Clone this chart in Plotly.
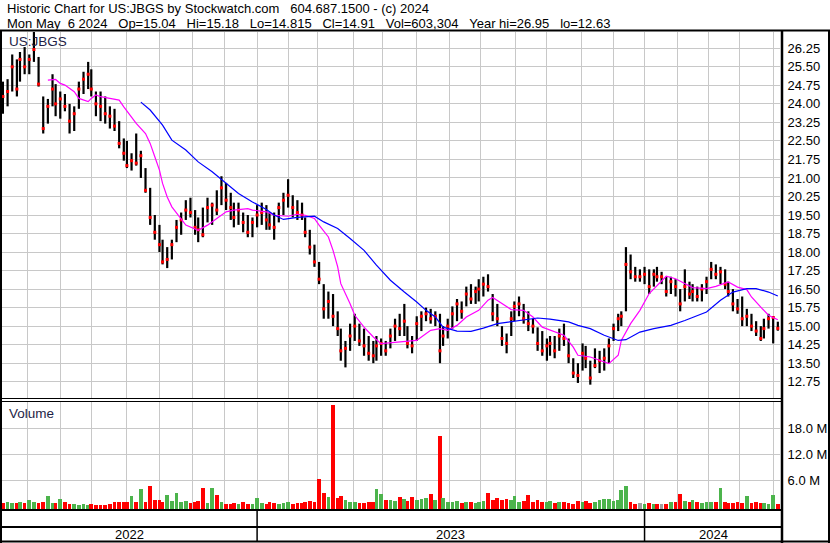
import numpy as np
import pandas as pd
import plotly.graph_objects as go

# ---------------- data ----------------
symbol = "US:JBGS"
header_line1_parts = ["Historic Chart for US:JBGS by Stockwatch.com", "604.687.1500 - (c) 2024"]
header_line2_parts = ["Mon May\u00a0\u00a06 2024", "Op=15.04", "Hi=15.18", "Lo=14.815",
                      "Cl=14.91", "Vol=603,304", "Year hi=26.95", "lo=12.63"]

# exchange holidays inside the charted period (trading calendar)
market_holidays = ["2022-05-30", "2022-06-20", "2022-07-04", "2022-09-05", "2022-11-24", "2022-12-26",
                   "2023-01-02", "2023-01-16", "2023-02-20", "2023-04-07", "2023-05-29", "2023-06-19",
                   "2023-07-04", "2023-09-04", "2023-11-23", "2023-12-25",
                   "2024-01-01", "2024-01-15", "2024-02-19", "2024-03-29"]
first_day, last_day = "2022-05-09", "2024-05-06"

# bars evenly spread over the period, first to last trading day
bar_high = [24.9, 25.0, 26.0, 25.8, 26.1, 26.3, 26.0, 26.95, 25.9, 24.3,
            24.2, 25.2, 24.8, 24.5, 24.4, 24.0, 23.9, 24.9, 25.3, 25.7,
            25.4, 24.5, 24.5, 24.3, 23.9, 23.8, 23.3, 22.6, 22.5, 22.0,
            22.8, 22.1, 21.4, 20.6, 19.5, 19.1, 18.5, 18.2, 18.5, 19.3,
            19.6, 20.1, 20.2, 19.7, 19.4, 19.8, 20.2, 20.0, 20.5, 21.07,
            20.8, 20.4, 20.0, 20.0, 19.6, 19.5, 19.4, 19.9, 20.0, 19.9,
            19.6, 19.6, 20.0, 20.4, 20.95, 20.3, 20.1, 20.0, 19.4, 18.9,
            18.3, 17.6, 16.7, 16.4, 16.3, 15.6, 14.9, 14.4, 15.1, 15.5,
            15.1, 14.9, 14.6, 14.4, 14.6, 14.5, 14.4, 14.9, 15.3, 15.5,
            15.9, 15.0, 14.6, 15.4, 15.6, 15.75, 15.7, 15.6, 15.5, 15.0,
            15.3, 15.8, 16.1, 16.0, 16.6, 16.7, 16.6, 16.9, 17.0, 17.1,
            16.3, 15.9, 15.0, 14.7, 15.6, 16.0, 16.2, 15.9, 15.6, 15.3,
            14.95, 14.8, 14.5, 14.6, 14.6, 14.9, 15.1, 14.5, 13.7, 13.5,
            14.3, 14.2, 13.6, 14.1, 14.0, 14.1, 14.5, 15.1, 15.5, 15.6,
            18.2, 17.9, 17.4, 17.3, 17.4, 17.3, 17.3, 17.4, 17.2, 17.0,
            17.0, 16.9, 16.5, 17.3, 16.8, 16.7, 16.6, 16.7, 17.0, 17.6,
            17.5, 17.4, 17.3, 16.8, 16.5, 16.1, 16.2, 15.7, 15.5, 15.2,
            15.0, 15.3, 15.5, 15.4, 15.18]
bar_low = [23.6, 23.9, 24.5, 24.3, 24.9, 25.2, 25.2, 25.7, 24.7, 22.8,
           23.2, 23.9, 23.5, 23.4, 23.7, 22.8, 22.9, 23.8, 24.4, 24.6,
           24.3, 23.5, 23.3, 23.2, 23.0, 22.9, 22.2, 21.7, 21.4, 21.3,
           21.5, 21.0, 20.4, 19.1, 18.5, 18.0, 17.5, 17.35, 17.7, 18.4,
           18.7, 19.3, 19.4, 18.7, 18.4, 18.6, 19.2, 19.1, 19.5, 19.9,
           19.7, 19.3, 19.0, 19.1, 18.8, 18.6, 18.6, 19.0, 19.1, 18.9,
           18.9, 18.5, 19.2, 19.5, 19.8, 19.4, 19.3, 19.3, 18.6, 17.9,
           17.4, 16.7, 15.3, 15.3, 15.0, 14.6, 13.6, 13.33, 14.0, 14.4,
           14.2, 13.8, 13.6, 13.5, 13.6, 13.8, 13.8, 14.1, 14.4, 14.6,
           14.6, 14.1, 13.9, 14.4, 14.8, 15.2, 15.1, 15.0, 13.5, 14.2,
           14.5, 14.9, 15.2, 15.3, 15.8, 15.9, 15.9, 16.0, 16.2, 16.4,
           15.2, 15.0, 14.2, 13.9, 14.6, 15.2, 15.4, 15.1, 14.8, 14.7,
           14.0, 13.8, 13.6, 13.8, 13.7, 14.0, 14.2, 13.5, 12.9, 12.7,
           13.2, 13.3, 12.63, 13.3, 13.1, 13.2, 13.5, 14.4, 14.8, 15.0,
           15.6, 16.9, 16.8, 16.8, 16.7, 16.3, 16.6, 16.8, 16.7, 16.2,
           16.3, 16.2, 15.6, 16.0, 16.1, 16.0, 16.0, 16.0, 16.3, 16.9,
           16.9, 16.7, 16.5, 16.2, 15.6, 15.5, 15.0, 15.0, 14.8, 14.6,
           14.4, 14.5, 14.9, 14.3, 14.815]
bar_close = [24.3, 24.5, 25.5, 24.6, 25.8, 25.5, 25.8, 26.2, 24.8, 23.0,
             23.9, 24.6, 24.0, 24.2, 23.9, 23.3, 23.6, 24.6, 25.0, 25.2,
             24.6, 24.0, 23.9, 23.6, 23.5, 23.1, 22.4, 22.0, 21.5, 21.7,
             21.6, 21.9, 20.5, 19.4, 18.8, 18.3, 17.6, 17.7, 18.3, 19.0,
             19.3, 19.7, 19.6, 19.0, 18.9, 18.7, 19.8, 19.9, 19.7, 20.6,
             20.1, 19.8, 19.4, 19.7, 19.2, 18.8, 19.2, 19.5, 19.6, 19.3,
             19.1, 19.0, 19.8, 20.1, 20.3, 19.8, 19.6, 19.5, 18.8, 18.2,
             17.6, 16.9, 15.7, 16.0, 15.4, 14.9, 14.0, 14.1, 14.6, 15.0,
             14.4, 14.2, 13.9, 13.8, 14.2, 14.3, 14.0, 14.6, 15.0, 14.9,
             15.2, 14.3, 14.2, 15.1, 15.4, 15.5, 15.3, 15.4, 14.0, 14.6,
             15.0, 15.5, 15.9, 15.6, 16.3, 16.1, 16.4, 16.5, 16.7, 16.6,
             15.5, 15.3, 14.5, 14.3, 15.3, 15.8, 15.9, 15.3, 15.1, 15.0,
             14.3, 14.0, 14.2, 14.3, 14.0, 14.6, 14.5, 13.8, 13.1, 13.0,
             13.9, 13.7, 12.9, 13.4, 13.6, 13.7, 14.2, 14.9, 15.3, 15.4,
             17.5, 17.2, 17.0, 17.0, 17.1, 16.6, 17.1, 17.0, 17.0, 16.4,
             16.8, 16.6, 15.9, 16.6, 16.3, 16.4, 16.2, 16.5, 16.8, 17.3,
             17.1, 17.2, 16.7, 16.4, 15.9, 15.7, 15.3, 15.4, 15.0, 14.8,
             14.5, 14.9, 15.3, 15.35, 14.91]
volume_m = [0.8, 0.9, 0.7, 0.8, 1.0, 0.7, 1.4, 0.9, 0.8, 1.0,
            2.4, 0.8, 0.7, 1.7, 0.9, 0.6, 0.5, 0.4, 0.5, 0.4,
            0.5, 0.3, 0.4, 0.3, 0.6, 0.9, 1.0, 0.9, 1.0, 2.4,
            0.9, 4.0, 1.0, 4.7, 1.4, 1.4, 1.0, 2.6, 1.3, 3.1,
            1.0, 1.2, 0.8, 0.9, 1.2, 4.3, 0.8, 4.3, 2.6, 1.0,
            0.6, 0.5, 0.8, 0.5, 0.9, 0.6, 0.5, 1.9, 0.7, 0.6,
            0.9, 0.8, 0.6, 0.7, 0.9, 0.6, 0.8, 0.7, 0.9, 1.2,
            1.0, 6.3, 3.0, 2.2, 23.4, 1.9, 2.4, 1.5, 1.0, 1.0,
            0.8, 0.7, 1.0, 0.9, 4.0, 2.8, 1.5, 1.4, 1.2, 2.2,
            1.6, 1.3, 2.2, 1.5, 1.8, 2.0, 2.8, 1.4, 16.2, 2.0,
            1.0, 0.9, 1.2, 0.8, 1.0, 0.9, 0.8, 1.0, 1.2, 3.0,
            1.5, 1.9, 1.4, 1.6, 1.5, 2.4, 1.0, 1.2, 2.6, 1.1,
            1.4, 1.0, 0.9, 1.2, 0.8, 1.1, 0.9, 0.7, 0.6, 1.3,
            0.9, 1.2, 0.8, 1.0, 1.5, 1.7, 1.6, 1.2, 1.5, 3.8,
            4.7, 1.0, 0.6, 0.7, 0.5, 0.7, 0.6, 0.6, 0.5, 0.6,
            0.9, 1.0, 2.8, 1.3, 1.0, 1.4, 1.0, 0.8, 0.9, 1.0,
            0.9, 4.3, 1.0, 0.7, 0.8, 0.9, 0.7, 2.4, 0.8, 1.0,
            0.7, 0.8, 0.6, 2.6, 0.5]

# moving averages, sampled at bar numbers
ma_short_bar = [10, 12, 13, 14, 16, 17, 19, 20, 21, 22, 24, 26, 27, 29, 30, 32, 33, 34, 35, 36,
                37, 38, 40, 41, 44, 46, 48, 50, 52, 55, 56, 59, 61, 64, 66, 68, 70, 71, 73, 74,
                75, 76, 78, 79, 81, 83, 85, 87, 90, 93, 94, 96, 98, 100, 102, 104, 107, 109, 110, 112,
                114, 117, 119, 121, 123, 126, 128, 129, 132, 134, 136, 138, 139, 141, 143, 145, 147, 149, 151, 153,
                155, 158, 160, 163, 165, 167, 168, 170, 172, 174]
ma_short_val = [24.96, 24.99, 24.83, 24.76, 24.49, 24.22, 24.09, 24.22, 24.36, 24.29, 24.22, 24.15, 23.88, 23.48, 23.21, 22.8, 22.4, 21.86, 21.32, 20.78,
                20.23, 19.83, 19.36, 19.09, 18.88, 19.09, 19.36, 19.63, 19.7, 19.76, 19.7, 19.63, 19.49, 19.45, 19.53, 19.49, 19.36, 19.09, 18.61, 18.07,
                17.4, 16.72, 15.91, 15.44, 14.96, 14.56, 14.29, 14.32, 14.36, 14.42, 14.56, 14.83, 14.9, 14.83, 15.03, 15.37, 15.64, 16.05, 16.16, 15.91,
                15.67, 15.64, 15.37, 14.96, 14.85, 14.63, 14.15, 13.82, 13.75, 13.61, 13.48, 13.82, 14.42, 15.1, 15.64, 16.32, 16.65, 17.02, 16.92, 16.72,
                16.56, 16.52, 16.61, 16.79, 16.58, 16.48, 16.18, 15.77, 15.44, 15.26]
ma_long_bar = [31, 33, 36, 38, 41, 44, 47, 50, 53, 56, 59, 61, 63, 66, 70, 72, 75, 78, 81, 84,
               87, 90, 93, 95, 97, 99, 102, 105, 108, 111, 114, 117, 120, 123, 127, 129, 132, 135, 138, 140,
               143, 146, 150, 153, 158, 161, 164, 167, 169, 172, 174]
ma_long_val = [24.07, 23.75, 23.14, 22.53, 22.13, 21.65, 21.25, 20.78, 20.37, 20.03, 19.72, 19.5, 19.32, 19.4, 19.45, 19.22, 18.95, 18.55, 18.07, 17.47,
               16.86, 16.38, 15.98, 15.64, 15.37, 14.96, 14.8, 14.79, 14.92, 15.1, 15.17, 15.26, 15.33, 15.28, 15.17, 15.03, 14.9, 14.63, 14.42, 14.45,
               14.76, 14.9, 15.03, 15.23, 15.57, 16.05, 16.38, 16.52, 16.52, 16.38, 16.22]

price_ticks = [12.75, 13.50, 14.25, 15.00, 15.75, 16.50, 17.25, 18.00, 18.75, 19.50,
               20.25, 21.00, 21.75, 22.50, 23.25, 24.00, 24.75, 25.50, 26.25]
vol_ticks = [6, 12, 18]
vol_tick_text = ["6.0 M", "12.0 M", "18.0 M"]

# ---------------- positions on a trading-day axis ----------------
tdays = pd.bdate_range(first_day, last_day)
tdays = tdays[~tdays.isin(pd.to_datetime(market_holidays))]
n_days = len(tdays)
n_bars = len(bar_close)
bar_pos = [int(round(k * (n_days - 1) / (n_bars - 1))) for k in range(n_bars)]
month_pos = [i for i in range(1, n_days) if tdays[i].month != tdays[i - 1].month]
year_pos = [i for i in range(1, n_days) if tdays[i].year != tdays[i - 1].year]
year_names = [str(tdays[0].year)] + [str(tdays[i].year) for i in year_pos]

X0, X1 = -0.6, n_days + 0.4
FONT = "Liberation Sans, Arial, sans-serif"
W, H = 830, 543
L, R, T, B = 2, 50, 32, 34
PW, PH = W - L - R, H - T - B


def px_x(x):
    return (x - L) / PW


def px_y(y):
    return (H - B - y) / PH


# ---------------- traces ----------------
hl_x, hl_y = [], []
for p, hi, lo in zip(bar_pos, bar_high, bar_low):
    hl_x += [p, p, None]
    hl_y += [lo, hi, None]

vol_colors = ["#ff0000"]
for i in range(1, n_bars):
    d = bar_close[i] - bar_close[i - 1]
    vol_colors.append("#4cb44c" if d > 0 else ("#ff0000" if d < 0 else "#a0a0a0"))

VOL_FLOOR = -0.62
fig = go.Figure()
fig.add_trace(go.Scatter(x=hl_x, y=hl_y, mode="lines", line=dict(color="black", width=2.2),
                         hoverinfo="skip", xaxis="x", yaxis="y"))
fig.add_trace(go.Scatter(x=bar_pos, y=bar_close, mode="markers",
                         marker=dict(symbol="square", size=3, color="#ff0000", line=dict(width=0)),
                         xaxis="x", yaxis="y"))
fig.add_trace(go.Scatter(x=[bar_pos[i] for i in ma_short_bar], y=ma_short_val, mode="lines",
                         line=dict(color="#ff00ff", width=1.2), xaxis="x", yaxis="y"))
fig.add_trace(go.Scatter(x=[bar_pos[i] for i in ma_long_bar], y=ma_long_val, mode="lines",
                         line=dict(color="#0000ff", width=1.2), xaxis="x", yaxis="y"))
fig.add_trace(go.Bar(x=bar_pos, y=[v - VOL_FLOOR for v in volume_m], base=VOL_FLOOR,
                     width=2.4, marker=dict(color=vol_colors, line=dict(width=0)),
                     xaxis="x2", yaxis="y2"))

grid = "#c8c8c8"
axis_common = dict(range=[X0, X1], tickvals=month_pos, showticklabels=False, ticks="",
                   showgrid=True, gridcolor=grid, gridwidth=1, zeroline=False, showline=False)
fig.update_layout(
    width=W, height=H, margin=dict(l=L, r=R, t=T, b=B),
    paper_bgcolor="white", plot_bgcolor="white", showlegend=False, hovermode=False,
    font=dict(family=FONT, size=13, color="black"),
    xaxis=dict(domain=[0, 1], anchor="y", **axis_common),
    xaxis2=dict(domain=[0, 1], anchor="y2", matches="x", **axis_common),
    yaxis=dict(domain=[px_y(398), 1], range=[12.09, 26.91], side="right", tickvals=price_ticks,
               tickformat=".2f", showgrid=True, gridcolor=grid, gridwidth=1, zeroline=False,
               showline=False, ticks="outside", ticklen=4, tickcolor="rgba(0,0,0,0)",
               tickfont=dict(family=FONT, size=13, color="black")),
    yaxis2=dict(domain=[0, px_y(401)], range=[VOL_FLOOR, 24.3], side="right", tickvals=vol_ticks,
                ticktext=vol_tick_text, showgrid=True, gridcolor=grid, gridwidth=1, zeroline=False,
                showline=False, ticks="outside", ticklen=4, tickcolor="rgba(0,0,0,0)",
                tickfont=dict(family=FONT, size=13, color="black")),
    bargap=0,
)

# ---------------- frame lines ----------------
shapes = []


def hline(y, x0, x1, w):
    shapes.append(dict(type="line", xref="paper", yref="paper", x0=px_x(x0), x1=px_x(x1),
                       y0=px_y(y), y1=px_y(y), line=dict(color="black", width=w)))


def vline(x, y0, y1, w):
    shapes.append(dict(type="line", xref="paper", yref="paper", x0=px_x(x), x1=px_x(x),
                       y0=px_y(y0), y1=px_y(y1), line=dict(color="black", width=w)))


hline(30.5, 0, 830, 2)
hline(398.5, 0, 782, 1.2)
hline(401.5, 0, 782, 1.2)
hline(510, 0, 782, 2)
hline(527, 0, 782, 2)
hline(541.5, 0, 830, 2)
vline(1, 30, 543, 2)
vline(782, 30, 543, 2.5)
vline(829, 30, 543, 2)
for p in year_pos:
    shapes.append(dict(type="line", xref="x", yref="paper", x0=p, x1=p, y0=px_y(510), y1=px_y(541),
                       line=dict(color="black", width=1.5)))
fig.update_layout(shapes=shapes)

# ---------------- texts ----------------
ann = []
GAP = "\u00a0\u00a0\u00a0"


def header_text(text, x, y):
    ann.append(dict(text=text, x=px_x(x), y=px_y(y), xref="paper", yref="paper",
                    xanchor="left", yanchor="middle", showarrow=False,
                    font=dict(size=13, color="black")))


header_text(GAP.join(header_line1_parts), 5, 9)
header_text(GAP.join(header_line2_parts), 5, 23)
ann.append(dict(text=symbol, x=px_x(7), y=px_y(41), xref="paper", yref="paper", xanchor="left",
                yanchor="middle", showarrow=False, font=dict(size=13.5, color="#1e1e46")))
ann.append(dict(text="Volume", x=px_x(7), y=px_y(413), xref="paper", yref="paper", xanchor="left",
                yanchor="middle", showarrow=False, font=dict(size=13.5, color="#1e1e46")))
bounds = [X0] + year_pos + [X1 + (782 - 780) / PW * (X1 - X0)]
for name, a, b in zip(year_names, bounds[:-1], bounds[1:]):
    ann.append(dict(text=name, x=(a + b) / 2, y=px_y(534.5), xref="x", yref="paper",
                    xanchor="center", yanchor="middle", showarrow=False,
                    font=dict(size=13, color="black")))
fig.update_layout(annotations=ann)

fig.write_html("out.html", config={"displayModeBar": False, "staticPlot": True},
               post_script="document.body.style.margin='0px';document.body.style.padding='0px';document.body.style.overflow='hidden';")
